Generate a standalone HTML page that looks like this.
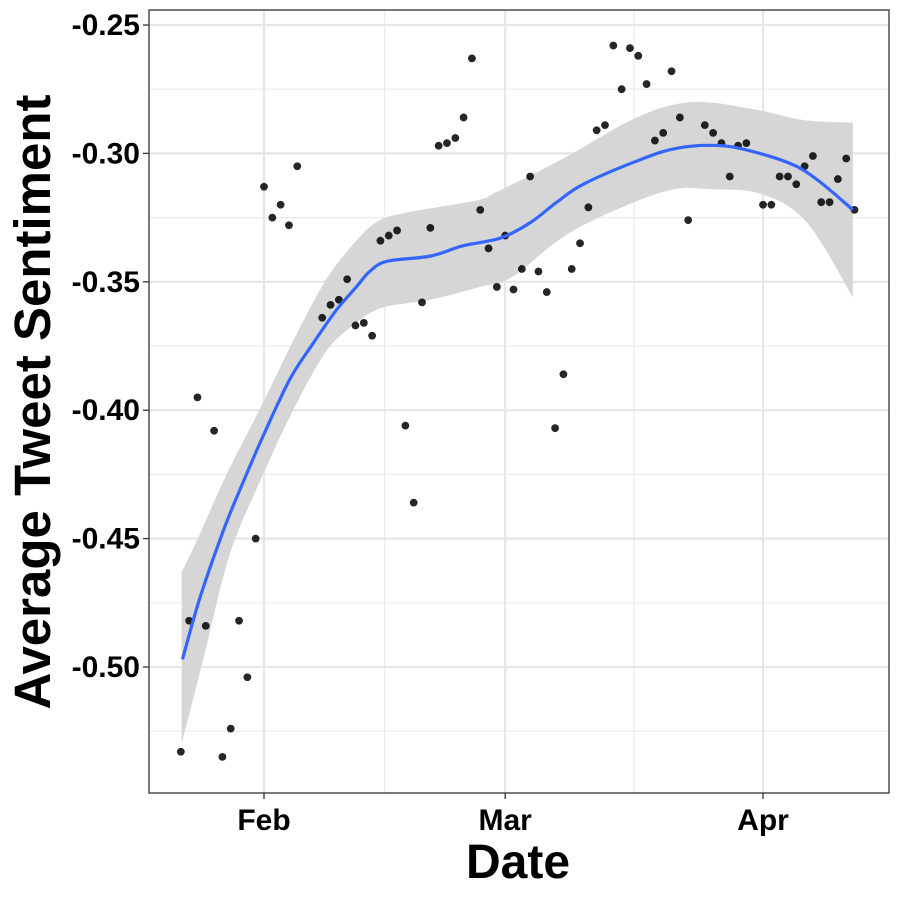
<!DOCTYPE html>
<html><head><meta charset="utf-8"><style>
html,body{margin:0;padding:0;background:#fff;}
svg{display:block;font-family:"Liberation Sans",sans-serif;}
</style></head><body>
<svg id="chart" width="900" height="900" viewBox="0 0 900 900" xmlns="http://www.w3.org/2000/svg">
<rect x="0" y="0" width="900" height="900" fill="#fff"/>
<g id="grid"></g>
<g id="band"></g>
<g id="pts"></g>
<g id="fit"></g>
<rect x="149" y="10" width="740" height="783" fill="none" stroke="#333" stroke-width="1.3"/>
<g id="axes"></g>
<text x="518" y="878" text-anchor="middle" font-size="48" font-weight="bold">Date</text>
<text transform="translate(50,402) rotate(-90)" text-anchor="middle" font-size="51" font-weight="bold">Average Tweet Sentiment</text>
</svg>
<script>
// day offsets relative to Feb 1
const pointDays = [-10,-9,-8,-7,-6,-5,-4,-3,-2,-1,0,1,2,3,4,7,8,9,10,11,12,13,14,15,16,17,18,19,20,21,22,23,24,25,26,27,28,29,30,31,32,33,34,35,36,37,38,39,40,41,42,43,44,45,46,47,48,49,50,51,53,54,55,56,57,58,60,61,62,63,64,65,66,67,68,69,70,71];
const pointValues = [-0.533,-0.482,-0.395,-0.484,-0.408,-0.535,-0.524,-0.482,-0.504,-0.450,-0.313,-0.325,-0.320,-0.328,-0.305,-0.364,-0.359,-0.357,-0.349,-0.367,-0.366,-0.371,-0.334,-0.332,-0.330,-0.406,-0.436,-0.358,-0.329,-0.297,-0.296,-0.294,-0.286,-0.263,-0.322,-0.337,-0.352,-0.332,-0.353,-0.345,-0.309,-0.346,-0.354,-0.407,-0.386,-0.345,-0.335,-0.321,-0.291,-0.289,-0.258,-0.275,-0.259,-0.262,-0.273,-0.295,-0.292,-0.268,-0.286,-0.326,-0.289,-0.292,-0.296,-0.309,-0.297,-0.296,-0.320,-0.320,-0.309,-0.309,-0.312,-0.305,-0.301,-0.319,-0.319,-0.310,-0.302,-0.322];
const fitDays = [-9.8,-7.7,-4.9,-2.9,-0.1,3.1,5.9,8.7,11.1,12.7,14.8,20,23.9,28.4,32,35.2,38.4,44.8,49.6,55,59.6,64,67.2,70.8];
const fitValues = [-0.497,-0.473,-0.447,-0.431,-0.410,-0.388,-0.374,-0.361,-0.352,-0.346,-0.342,-0.340,-0.336,-0.333,-0.327,-0.319,-0.312,-0.303,-0.298,-0.297,-0.300,-0.305,-0.312,-0.322];
const upperDays = [-9.9,-8.1,-4.5,-0.1,3.5,7.5,11.1,13.9,17.2,20.8,26,28,36,44.8,51.6,59.2,64.8,70.8];
const upperValues = [-0.463,-0.451,-0.425,-0.397,-0.373,-0.349,-0.334,-0.326,-0.323,-0.321,-0.318,-0.315,-0.302,-0.286,-0.280,-0.283,-0.287,-0.288];
const lowerDays = [-9.9,-7.3,-4.1,-0.1,3.5,7.5,11.1,14.3,20,26,29.9,37.2,48,54,60,65.3,70.8];
const lowerValues = [-0.530,-0.497,-0.456,-0.425,-0.400,-0.377,-0.366,-0.360,-0.357,-0.352,-0.348,-0.330,-0.315,-0.314,-0.316,-0.327,-0.356];
const yTicks = [-0.25,-0.30,-0.35,-0.40,-0.45,-0.50];
const yTickLabels = ["-0.25","-0.30","-0.35","-0.40","-0.45","-0.50"];
const yMinor = [-0.275,-0.325,-0.375,-0.425,-0.475,-0.525];
const xTicks = [0,29,60];
const xTickLabels = ["Feb","Mar","Apr"];
const xMinor = [14.5,44.5];

const NS="http://www.w3.org/2000/svg";
const X0=149,X1=889,Y0=10,Y1=793;
function xs(d){return 264+(d)*8.317;}
function ys(v){return 25+(-0.25-v)*2568;}
function mk(tag,attrs,parent){const e=document.createElementNS(NS,tag);for(const k in attrs)e.setAttribute(k,attrs[k]);parent.appendChild(e);return e;}
function smoothPath(pts,move){
  let d=move?`M${pts[0][0]},${pts[0][1]}`:`L${pts[0][0]},${pts[0][1]}`;
  for(let i=0;i<pts.length-1;i++){
    const p0=pts[Math.max(0,i-1)],p1=pts[i],p2=pts[i+1],p3=pts[Math.min(pts.length-1,i+2)];
    const c1=[p1[0]+(p2[0]-p0[0])/6,p1[1]+(p2[1]-p0[1])/6];
    const c2=[p2[0]-(p3[0]-p1[0])/6,p2[1]-(p3[1]-p1[1])/6];
    d+=`C${c1[0]},${c1[1]} ${c2[0]},${c2[1]} ${p2[0]},${p2[1]}`;
  }
  return d;
}
const grid=document.getElementById('grid');
yMinor.forEach(v=>{const l=mk('line',{x1:X0,x2:X1,y1:ys(v),y2:ys(v),stroke:'#ebebeb','stroke-width':1.2},grid);

});
xMinor.forEach(d=>{const l=mk('line',{x1:xs(d),x2:xs(d),y1:Y0,y2:Y1,stroke:'#ebebeb','stroke-width':1.2},grid);

});
yTicks.forEach(v=>{const l=mk('line',{x1:X0,x2:X1,y1:ys(v),y2:ys(v),stroke:'#e6e6e6','stroke-width':2.2},grid);

});
xTicks.forEach(d=>{const l=mk('line',{x1:xs(d),x2:xs(d),y1:Y0,y2:Y1,stroke:'#e6e6e6','stroke-width':2.2},grid);

});

const band=document.getElementById('band');
const up=upperDays.map((d,i)=>[xs(d),ys(upperValues[i])]);
const lo=lowerDays.map((d,i)=>[xs(d),ys(lowerValues[i])]).reverse();
const bp=mk('path',{d:smoothPath(up,true)+smoothPath(lo,false)+'Z',fill:'#d6d6d6'},band);



const pts=document.getElementById('pts');
pointDays.forEach((d,i)=>{const c=mk('circle',{cx:xs(d),cy:ys(pointValues[i]),r:3.9,fill:'#000','fill-opacity':0.85},pts);

});

const fit=document.getElementById('fit');
const fp=fitDays.map((d,i)=>[xs(d),ys(fitValues[i])]);
const fl=mk('path',{d:smoothPath(fp,true),fill:'none',stroke:'#3366ff','stroke-width':3.2},fit);



const axes=document.getElementById('axes');
yTicks.forEach((v,i)=>{
  const t=mk('line',{x1:X0-6,x2:X0,y1:ys(v),y2:ys(v),stroke:'#333','stroke-width':1.3},axes);
  
  
  const tx=mk('text',{x:X0-9,y:ys(v)+10,'text-anchor':'end','font-size':30,'font-weight':'bold',fill:'#000'},axes);
  tx.textContent=yTickLabels[i];
  
  
});
xTicks.forEach((d,i)=>{
  const t=mk('line',{x1:xs(d),x2:xs(d),y1:Y1,y2:Y1+6,stroke:'#333','stroke-width':1.3},axes);
  
  
  const tx=mk('text',{x:xs(d),y:830,'text-anchor':'middle','font-size':30,'font-weight':'bold',fill:'#000'},axes);
  tx.textContent=xTickLabels[i];
  
  
});
</script>
</body></html>
